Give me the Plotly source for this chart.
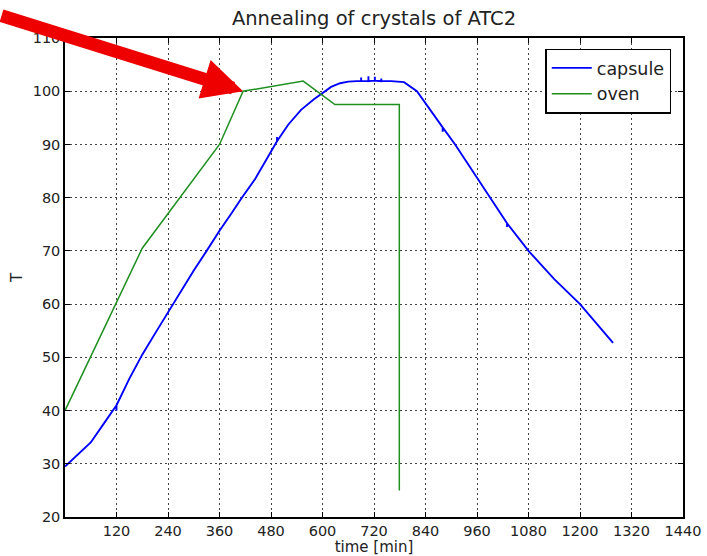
import plotly.graph_objects as go

# ---- data ----
# (repeated times mark the small vertical noise ticks seen on the capsule trace)
capsule_t = [0, 30, 60, 90, 120, 120, 120, 150, 180, 210, 240, 270, 300, 330, 360,
             390, 412, 443, 489, 494, 494, 494, 520, 550, 580, 600, 620, 641, 660,
             680, 690, 690, 690, 707, 707, 707, 720, 722, 722, 722, 737, 737, 737,
             760, 775, 790, 820, 860, 880, 880, 880, 909, 950, 990, 1030, 1030,
             1030, 1080, 1140, 1200, 1240, 1277]
capsule_T = [29.5, 31.8, 34.0, 37.5, 41.0, 40.0, 41.0, 46.0, 50.5, 54.5, 58.5, 62.5,
             66.3, 70.0, 73.8, 77.3, 80.0, 83.5, 90.0, 90.6, 91.4, 90.6, 93.7, 96.5,
             98.5, 99.7, 100.8, 101.5, 101.8, 101.9, 101.9, 102.6, 101.9, 101.9,
             102.8, 101.9, 102.0, 102.0, 102.7, 102.0, 101.9, 102.4, 101.9, 101.9,
             101.8, 101.7, 100.0, 95.5, 93.2, 92.4, 93.2, 90.0, 85.0, 80.0, 75.2,
             74.5, 75.2, 70.0, 64.7, 60.0, 56.2, 52.7]

oven_t = [0, 180, 360, 415, 555, 629, 779, 779]
oven_T = [40.0, 70.5, 90.0, 100.0, 101.9, 97.5, 97.5, 25.0]

x_ticks = [120, 240, 360, 480, 600, 720, 840, 960, 1080, 1200, 1320, 1440]
y_ticks = [20, 30, 40, 50, 60, 70, 80, 90, 100, 110]

FONT = "DejaVu Sans"
TXT = "#222222"

fig = go.Figure()
fig.add_trace(go.Scatter(x=capsule_t, y=capsule_T, mode="lines", name="capsule",
                         line=dict(color="#0000ff", width=1.9)))
fig.add_trace(go.Scatter(x=oven_t, y=oven_T, mode="lines", name="oven",
                         line=dict(color="#1f8f1f", width=1.5)))

axis_common = dict(showline=True, linecolor="black", linewidth=1.5, mirror="allticks",
                   ticks="inside", ticklen=5, tickcolor="black", automargin=False,
                   showgrid=True, gridcolor="#444444", griddash="2px,3px", gridwidth=1,
                   zeroline=False, tickfont=dict(family=FONT, size=14.5, color=TXT))

fig.update_xaxes(range=[0, 1440], tickvals=x_ticks,
                 title=dict(text="time [min]", font=dict(family=FONT, size=15, color=TXT),
                            standoff=3),
                 **axis_common)
fig.update_yaxes(range=[20, 110], tickvals=y_ticks,
                 title=dict(text="T", font=dict(family=FONT, size=15, color=TXT),
                            standoff=6),
                 **axis_common)

fig.update_layout(
    width=707, height=556,
    margin=dict(l=65, r=24, t=38, b=39),
    plot_bgcolor="white", paper_bgcolor="white",
    title=dict(text="Annealing of crystals of ATC2", x=0.5, xref="paper",
               xanchor="center", y=0.98, yanchor="top",
               font=dict(family=FONT, size=19.5, color=TXT)),
    legend=dict(x=0.981, y=0.978, xanchor="right", yanchor="top",
                bordercolor="black", borderwidth=1.5, bgcolor="white",
                font=dict(family=FONT, size=17.5, color=TXT),
                tracegroupgap=0, itemwidth=40),
    showlegend=True,
)

# red pointer arrow
fig.add_annotation(x=415, y=100, xref="x", yref="y", ax=-255, ay=-76,
                   axref="pixel", ayref="pixel", showarrow=True, text="",
                   arrowcolor="#ee0000", arrowwidth=13, arrowhead=2, arrowsize=0.62)

fig.write_html("out.html")
